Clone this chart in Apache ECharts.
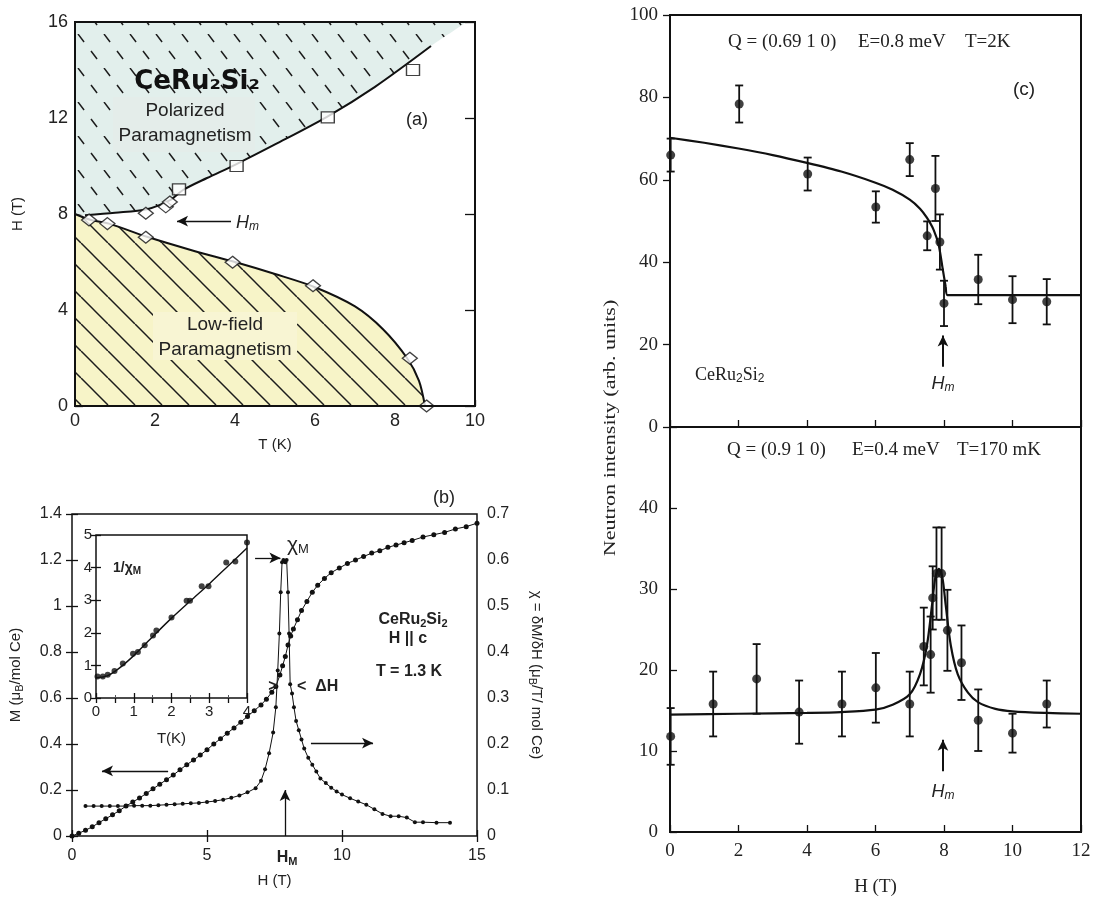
<!DOCTYPE html>
<html>
<head>
<meta charset="utf-8">
<script src="https://cdn.jsdelivr.net/npm/echarts/dist/echarts.min.js"></script>
<style>
html, body { margin: 0; background: #fff; }
#chart { width: 1097px; height: 898px; }
</style>
</head>
<body>
<div id="chart"></div>
<script>
( () => {
    const SANS = "'Liberation Sans', Arial, sans-serif";
    const SERIF = "'Liberation Serif', 'Times New Roman', serif";

    // ---- panel (a): phase diagram ----
    const aLowT = [0.35, 0.81, 1.77, 3.94, 5.95, 8.37, 8.79];
    const aLowH = [7.75, 7.6, 7.03, 5.99, 5.01, 1.99, 0];
    const aUpDiaT = [1.77, 2.27, 2.37];
    const aUpDiaH = [8.03, 8.3, 8.5];
    const aUpSqT = [2.6, 4.04, 6.32, 8.45];
    const aUpSqH = [9.03, 10.0, 12.03, 14.0];
    const aLowLineT = [0, 0.4, 0.85, 1.8, 3, 4, 5, 6, 7, 7.7, 8.3, 8.6, 8.75];
    const aLowLineH = [8.0, 7.75, 7.6, 7.05, 6.45, 6.0, 5.5, 4.95, 4.15, 3.2, 2.0, 1.05, 0];
    const aUpLineT = [0.25, 1, 1.8, 2.4, 2.7, 3.3, 4, 5, 6.3, 7.5, 8.9];
    const aUpLineH = [7.95, 8.05, 8.2, 8.6, 9.0, 9.5, 10.05, 10.9, 12.05, 13.3, 15.0];
    const aTealT = [0, ...aUpLineT, 9.8];
    const aTealH = [8.0, ...aUpLineH, 16];

    // ---- panel (b): magnetization and susceptibility ----
    const bMH = [0, 0.25, 0.5, 0.75, 1.0, 1.25, 1.5, 1.75, 2.0, 2.25, 2.5, 2.75, 3.0, 3.25, 3.5, 3.75,
        4.0, 4.25, 4.5, 4.75, 5.0, 5.25, 5.5, 5.75, 6.0, 6.25, 6.5, 6.75, 7.0, 7.2, 7.4, 7.55, 7.7,
        7.8, 7.9, 8.0, 8.1, 8.2, 8.35, 8.5, 8.7, 8.9, 9.1, 9.35, 9.6, 9.9, 10.2, 10.5, 10.8, 11.1,
        11.4, 11.7, 12.0, 12.3, 12.6, 13.0, 13.4, 13.8, 14.2, 14.6, 15.0];
    const bM = [0, 0.012, 0.025, 0.04, 0.058, 0.075, 0.092, 0.11, 0.13, 0.148, 0.165, 0.185, 0.205,
        0.225, 0.245, 0.265, 0.288, 0.31, 0.33, 0.352, 0.375, 0.40, 0.423, 0.447, 0.47, 0.495, 0.52,
        0.545, 0.57, 0.595, 0.625, 0.65, 0.70, 0.74, 0.78, 0.83, 0.87, 0.90, 0.94, 0.98, 1.02, 1.06,
        1.09, 1.12, 1.145, 1.165, 1.185, 1.2, 1.215, 1.23, 1.24, 1.255, 1.265, 1.275, 1.285, 1.3,
        1.31, 1.32, 1.335, 1.345, 1.36];
    const bChiH = [0.5, 0.8, 1.1, 1.4, 1.7, 2.0, 2.3, 2.6, 2.9, 3.2, 3.5, 3.8, 4.1, 4.4, 4.7, 5.0,
        5.3, 5.6, 5.9, 6.2, 6.5, 6.8, 7.0, 7.15, 7.3, 7.45, 7.55, 7.62, 7.68, 7.73, 7.78, 7.83, 7.9,
        7.95, 8.0, 8.04, 8.08, 8.15, 8.22, 8.3, 8.4, 8.5, 8.6, 8.75, 8.9, 9.05, 9.2, 9.4, 9.6, 9.8,
        10.0, 10.3, 10.6, 10.9, 11.2, 11.5, 11.8, 12.1, 12.4, 12.7, 13.0, 13.5, 14.0];
    const bChi = [0.065, 0.065, 0.065, 0.065, 0.065, 0.065, 0.066, 0.066, 0.066, 0.067, 0.068, 0.069,
        0.070, 0.071, 0.072, 0.074, 0.076, 0.079, 0.083, 0.088, 0.095, 0.104, 0.12, 0.145, 0.18,
        0.225, 0.28, 0.36, 0.44, 0.53, 0.595, 0.6, 0.595, 0.6, 0.53, 0.44, 0.33, 0.31, 0.28, 0.25,
        0.23, 0.21, 0.19, 0.17, 0.155, 0.14, 0.125, 0.115, 0.105, 0.097, 0.09, 0.082, 0.075, 0.068,
        0.058, 0.048, 0.043, 0.043, 0.04, 0.03, 0.03, 0.029, 0.029];
    const bInvT = [0.04, 0.18, 0.31, 0.49, 0.71, 0.98, 1.11, 1.29, 1.51, 1.6, 2.0, 2.4, 2.49, 2.8, 2.98, 3.45, 3.69, 4.0];
    const bInv = [0.66, 0.66, 0.71, 0.83, 1.06, 1.36, 1.41, 1.62, 1.92, 2.07, 2.47, 2.98, 2.98, 3.43, 3.43, 4.16, 4.19, 4.77];
    const bInvFitT = [0, 0.3, 0.6, 1, 1.5, 2, 2.5, 3, 3.5, 4];
    const bInvFit = [0.62, 0.68, 0.9, 1.3, 1.88, 2.45, 2.98, 3.5, 4.05, 4.6];

    // ---- panel (c): neutron intensity ----
    const cTopH = [0.02, 2.02, 4.02, 6.01, 7.0, 7.51, 7.75, 7.88, 8.0, 9.0, 10.0, 11.0];
    const cTopI = [66.0, 78.4, 61.4, 53.4, 64.9, 46.4, 57.9, 44.9, 30.0, 35.8, 30.9, 30.4];
    const cTopErr = [4, 4.5, 4, 3.8, 4, 3.5, 7.9, 6.7, 5.5, 6, 5.7, 5.5];
    const cTopFitH = [0, 1, 2, 3, 4, 5, 6, 6.5, 7, 7.3, 7.5, 7.7, 7.85, 7.95, 8.05, 8.1, 12];
    const cTopFitI = [70.2, 69.0, 67.6, 66.0, 64.1, 62.0, 59.3, 57.6, 55.2, 53.0, 50.8, 47.8, 44, 39, 34, 32, 32];
    const cBotH = [0.02, 1.26, 2.53, 3.77, 5.02, 6.01, 7.0, 7.41, 7.61, 7.67, 7.78, 7.93, 8.1, 8.51, 9.0, 10.0, 11.0];
    const cBotI = [11.8, 15.8, 18.9, 14.8, 15.8, 17.8, 15.8, 22.9, 21.9, 28.9, 31.9, 31.9, 24.9, 20.9, 13.8, 12.2, 15.8];
    const cBotErr = [3.5, 4, 4.3, 3.9, 4, 4.3, 4, 4.8, 4.7, 3.9, 5.7, 5.7, 5, 4.6, 3.8, 2.4, 2.9];
    const cBotFitH = [0, 2, 4, 5, 6, 6.5, 7, 7.3, 7.5, 7.65, 7.75, 7.85, 7.95, 8.05, 8.2, 8.4, 8.7, 9, 9.5, 10, 11, 12];
    const cBotFitI = [14.5, 14.6, 14.7, 14.8, 15.1, 15.7, 17, 19.5, 23, 28, 31.5, 32.5, 31.5, 28, 23, 19.5, 17.2, 16, 15.2, 14.9, 14.7, 14.6];

    const zip = ( a, b ) => a.map( ( v, i ) => [ v, b[ i ] ] );
    const zip3 = ( a, b, c ) => a.map( ( v, i ) => [ v, b[ i ], c[ i ] ] );

    // hatch pattern tiles for the phase diagram
    function hatch( bg, w, h, dash ) {
        const c = document.createElement( 'canvas' );
        c.width = w;
        c.height = h;
        const g = c.getContext( '2d' );
        g.fillStyle = bg;
        g.fillRect( 0, 0, w, h );
        g.strokeStyle = '#1c1c1c';
        g.lineWidth = 1.5;
        if ( dash ) g.setLineDash( dash );
        for ( let k = -1; k <= 1; k++ ) {
            g.beginPath();
            g.moveTo( k * w, 0 );
            g.lineTo( k * w + w, h );
            g.stroke();
        }
        return { image: c, repeat: 'repeat' };
    }
    const tealFill = hatch( '#e2efec', 26, 34, [ 10, 11.4 ] );
    const yellowFill = hatch( '#f7f4c8', 27, 27 );

    function errBars( params, api ) {
        const x = api.value( 0 ), y = api.value( 1 ), e = api.value( 2 );
        const hi = api.coord( [ x, y + e ] );
        const lo = api.coord( [ x, y - e ] );
        const w = 4;
        const st = { stroke: '#111', lineWidth: 1.8 };
        return {
            type: 'group',
            children: [
                { type: 'line', shape: { x1: hi[ 0 ], y1: hi[ 1 ], x2: lo[ 0 ], y2: lo[ 1 ] }, style: st },
                { type: 'line', shape: { x1: hi[ 0 ] - w, y1: hi[ 1 ], x2: hi[ 0 ] + w, y2: hi[ 1 ] }, style: st },
                { type: 'line', shape: { x1: lo[ 0 ] - w, y1: lo[ 1 ], x2: lo[ 0 ] + w, y2: lo[ 1 ] }, style: st },
            ],
        };
    }

    const arrows = ( list, w ) => ( {
        silent: true,
        symbol: [ 'none', 'arrow' ],
        symbolSize: [ 8, 11 ],
        label: { show: false },
        lineStyle: { color: '#111', width: w || 1.4, type: 'solid' },
        data: list.map( a => [ { coord: [ a[ 0 ], a[ 1 ] ] }, { coord: [ a[ 2 ], a[ 3 ] ] } ] ),
    } );

    const sub = { fontSize: 11, padding: [ 7, 0, 0, 0 ] };

    const tick = ( show, len ) => ( { show: show, inside: true, length: len || 6, lineStyle: { color: '#111', width: 1.3 } } );
    const noLine = { show: false };

    const chart = echarts.init( document.getElementById( 'chart' ) );

    const option = {
        animation: false,
        backgroundColor: '#fff',
        grid: [
            { left: 75, top: 22, width: 400, height: 384, show: true, borderColor: '#111', borderWidth: 2, z: 5 },
            { left: 72, top: 514, width: 405, height: 322, show: true, borderColor: '#111', borderWidth: 1.5, z: 5 },
            { left: 96, top: 535, width: 151, height: 163, show: true, borderColor: '#111', borderWidth: 1.5, backgroundColor: '#fff' },
            { left: 670, top: 15, width: 411, height: 412, show: true, borderColor: '#111', borderWidth: 2, z: 5 },
            { left: 670, top: 427, width: 411, height: 410, show: true, borderColor: '#111', borderWidth: 2, z: 5 },
        ],
        xAxis: [
            {
                gridIndex: 0, type: 'value', min: 0, max: 10, interval: 2,
                axisLine: noLine, axisTick: tick( true ), splitLine: { show: false },
                axisLabel: { fontFamily: SANS, fontSize: 18, color: '#222', margin: 6 },
                name: 'T (K)', nameLocation: 'middle', nameGap: 31,
                nameTextStyle: { fontFamily: SANS, fontSize: 15, color: '#222' },
            },
            {
                gridIndex: 1, type: 'value', min: 0, max: 15, interval: 5,
                axisLine: noLine, axisTick: tick( true ), splitLine: { show: false },
                axisLabel: { fontFamily: SANS, fontSize: 16, color: '#222', margin: 12 },
                name: 'H (T)', nameLocation: 'middle', nameGap: 37,
                nameTextStyle: { fontFamily: SANS, fontSize: 15, color: '#222' },
            },
            {
                gridIndex: 1, type: 'value', position: 'top', min: 0, max: 15, interval: 5,
                axisLine: noLine, axisTick: tick( true ), axisLabel: { show: false }, splitLine: { show: false },
            },
            {
                gridIndex: 2, type: 'value', min: 0, max: 4, interval: 1,
                axisLine: noLine, axisTick: tick( true, 5 ), splitLine: { show: false },
                minorTick: { show: true, splitNumber: 2, length: 3 },
                axisLabel: { fontFamily: SANS, fontSize: 15, color: '#222', margin: 6 },
                name: 'T(K)', nameLocation: 'middle', nameGap: 33,
                nameTextStyle: { fontFamily: SANS, fontSize: 15, color: '#222' },
            },
            {
                gridIndex: 2, type: 'value', position: 'top', min: 0, max: 4, interval: 0.5,
                axisLine: noLine, axisTick: tick( true, 5 ), axisLabel: { show: false }, splitLine: { show: false },
            },
            {
                gridIndex: 3, type: 'value', min: 0, max: 12, interval: 2,
                axisLine: noLine, axisTick: tick( true, 7 ), axisLabel: { show: false }, splitLine: { show: false },
            },
            {
                gridIndex: 4, type: 'value', min: 0, max: 12, interval: 2,
                axisLine: noLine, axisTick: tick( true, 7 ), splitLine: { show: false },
                axisLabel: { fontFamily: SERIF, fontSize: 19, color: '#222', margin: 10 },
                name: 'H (T)', nameLocation: 'middle', nameGap: 46,
                nameTextStyle: { fontFamily: SERIF, fontSize: 19, color: '#222' },
            },
        ],
        yAxis: [
            {
                gridIndex: 0, type: 'value', min: 0, max: 16, interval: 4,
                axisLine: noLine, axisTick: tick( true, 8 ), splitLine: { show: false },
                axisLabel: { fontFamily: SANS, fontSize: 18, color: '#222', margin: 7 },
                name: 'H (T)', nameLocation: 'middle', nameGap: 50, nameRotate: 90,
                nameTextStyle: { fontFamily: SANS, fontSize: 15, color: '#222' },
            },
            {
                gridIndex: 0, type: 'value', position: 'right', min: 0, max: 16, interval: 4,
                axisLine: noLine, axisTick: tick( true, 10 ), axisLabel: { show: false }, splitLine: { show: false },
            },
            {
                gridIndex: 1, type: 'value', min: 0, max: 1.4, interval: 0.2,
                axisLine: noLine, axisTick: tick( true ), splitLine: { show: false },
                axisLabel: { fontFamily: SANS, fontSize: 16, color: '#222', margin: 10 },
                name: 'M (μ{s|B}/mol Ce)', nameLocation: 'middle', nameGap: 47, nameRotate: 90,
                nameTextStyle: { fontFamily: SANS, fontSize: 15, color: '#222', rich: { s: sub } },
            },
            {
                gridIndex: 1, type: 'value', position: 'right', min: 0, max: 0.7, interval: 0.1,
                axisLine: noLine, axisTick: tick( true ), splitLine: { show: false },
                axisLabel: { fontFamily: SANS, fontSize: 16, color: '#222', margin: 10 },
                name: 'χ = δM/δH (μ{s|B}/T/ mol Ce)', nameLocation: 'middle', nameGap: 50, nameRotate: -90,
                nameTextStyle: { fontFamily: SANS, fontSize: 15, color: '#222', rich: { s: sub } },
            },
            {
                gridIndex: 2, type: 'value', min: 0, max: 5, interval: 1,
                axisLine: noLine, axisTick: tick( true, 5 ), splitLine: { show: false },
                axisLabel: { fontFamily: SANS, fontSize: 15, color: '#222', margin: 4 },
            },
            {
                gridIndex: 2, type: 'value', position: 'right', min: 0, max: 5, interval: 1,
                axisLine: noLine, axisTick: tick( true, 5 ), axisLabel: { show: false }, splitLine: { show: false },
            },
            {
                gridIndex: 3, type: 'value', min: 0, max: 100, interval: 20,
                axisLine: noLine, axisTick: { show: true, inside: false, length: 7, lineStyle: { color: '#111', width: 1.3 } },
                splitLine: { show: false },
                axisLabel: { fontFamily: SERIF, fontSize: 19, color: '#222', margin: 12 },
            },
            {
                gridIndex: 4, type: 'value', min: 0, max: 50, interval: 10,
                axisLine: noLine, axisTick: tick( true, 7 ), splitLine: { show: false },
                axisLabel: {
                    fontFamily: SERIF, fontSize: 19, color: '#222', margin: 12,
                    formatter: v => ( v === 50 ? '' : String( v ) ),
                },
            },
        ],
        series: [
            // (a) fills
            {
                type: 'line', xAxisIndex: 0, yAxisIndex: 0, data: zip( aTealT, aTealH ), smooth: 0.3,
                showSymbol: false, lineStyle: { opacity: 0 }, silent: true, z: 1,
                areaStyle: { color: tealFill, origin: 'end', opacity: 1 },
            },
            {
                type: 'line', xAxisIndex: 0, yAxisIndex: 0, data: zip( aLowLineT, aLowLineH ), smooth: 0.3,
                showSymbol: false, lineStyle: { opacity: 0 }, silent: true, z: 1,
                areaStyle: { color: yellowFill, origin: 'start', opacity: 1 },
            },
            // (a) boundary lines
            {
                type: 'line', xAxisIndex: 0, yAxisIndex: 0, data: zip( aLowLineT, aLowLineH ), smooth: 0.3,
                showSymbol: false, lineStyle: { color: '#111', width: 2 }, z: 3,
                markLine: arrows( [ [ 3.9, 7.7, 2.55, 7.7 ] ] ),
            },
            {
                type: 'line', xAxisIndex: 0, yAxisIndex: 0, data: zip( aUpLineT, aUpLineH ), smooth: 0.3,
                showSymbol: false, lineStyle: { color: '#111', width: 2 }, z: 3,
            },
            {
                type: 'scatter', xAxisIndex: 0, yAxisIndex: 0,
                data: zip( aLowT, aLowH ).concat( zip( aUpDiaT, aUpDiaH ) ),
                symbol: 'diamond', symbolSize: [ 15, 12 ], z: 4,
                itemStyle: { color: '#fff', borderColor: '#111', borderWidth: 1.3 },
            },
            {
                type: 'scatter', xAxisIndex: 0, yAxisIndex: 0, data: zip( aUpSqT, aUpSqH ),
                symbol: 'rect', symbolSize: [ 13, 11 ], z: 4,
                itemStyle: { color: '#fff', borderColor: '#111', borderWidth: 1.3 },
            },
            // (b) magnetization (left axis)
            {
                type: 'line', xAxisIndex: 1, yAxisIndex: 2, data: zip( bMH, bM ),
                symbol: 'circle', symbolSize: 5, itemStyle: { color: '#111' },
                lineStyle: { color: '#111', width: 1 },
                markLine: arrows( [
                    [ 6.78, 1.209, 7.72, 1.209 ],
                    [ 3.56, 0.283, 1.11, 0.283 ],
                    [ 8.85, 0.404, 11.15, 0.404 ],
                    [ 7.89, 0, 7.89, 0.2 ],
                ], 1.3 ),
            },
            // (b) susceptibility (right axis)
            {
                type: 'line', xAxisIndex: 1, yAxisIndex: 3, data: zip( bChiH, bChi ),
                symbol: 'circle', symbolSize: 4, itemStyle: { color: '#111' },
                lineStyle: { color: '#111', width: 1 },
            },
            // (b) inset
            {
                type: 'line', xAxisIndex: 3, yAxisIndex: 4, data: zip( bInvFitT, bInvFit ), smooth: 0.3,
                showSymbol: false, lineStyle: { color: '#111', width: 1.4 },
            },
            {
                type: 'scatter', xAxisIndex: 3, yAxisIndex: 4, data: zip( bInvT, bInv ),
                symbol: 'circle', symbolSize: 6, itemStyle: { color: '#111' },
            },
            // (c) upper
            {
                type: 'line', xAxisIndex: 5, yAxisIndex: 6, data: zip( cTopFitH, cTopFitI ), smooth: 0.2,
                showSymbol: false, lineStyle: { color: '#111', width: 2.2 },
                markLine: arrows( [ [ 7.97, 14.6, 7.97, 22.2 ] ], 2 ),
            },
            {
                type: 'custom', xAxisIndex: 5, yAxisIndex: 6, data: zip3( cTopH, cTopI, cTopErr ),
                renderItem: errBars,
            },
            {
                type: 'scatter', xAxisIndex: 5, yAxisIndex: 6, data: zip( cTopH, cTopI ),
                symbol: 'circle', symbolSize: 9, itemStyle: { color: '#111' }, z: 4,
            },
            // (c) lower
            {
                type: 'line', xAxisIndex: 6, yAxisIndex: 7, data: zip( cBotFitH, cBotFitI ), smooth: 0.3,
                showSymbol: false, lineStyle: { color: '#111', width: 2.2 },
                markLine: arrows( [ [ 7.97, 7.5, 7.97, 11.4 ] ], 2 ),
            },
            {
                type: 'custom', xAxisIndex: 6, yAxisIndex: 7, data: zip3( cBotH, cBotI, cBotErr ),
                renderItem: errBars,
            },
            {
                type: 'scatter', xAxisIndex: 6, yAxisIndex: 7, data: zip( cBotH, cBotI ),
                symbol: 'circle', symbolSize: 9, itemStyle: { color: '#111' }, z: 4,
            },
        ],
        graphic: [
            // (a) labels
            { type: 'rect', shape: { x: 113, y: 97, width: 142, height: 55 }, style: { fill: '#e4edea' }, z: 10 },
            { type: 'rect', shape: { x: 153, y: 312, width: 144, height: 48 }, style: { fill: '#f8f5d3' }, z: 10 },
            {
                type: 'text', z: 11,
                style: { text: 'CeRu₂Si₂', x: 197, y: 82, font: "bold 26px 'DejaVu Sans', sans-serif", fill: '#111', align: 'center', verticalAlign: 'middle' },
            },
            {
                type: 'text', z: 11,
                style: { text: 'Polarized\nParamagnetism', x: 185, y: 123, font: "19px " + SANS, lineHeight: 25, fill: '#222', align: 'center', verticalAlign: 'middle' },
            },
            {
                type: 'text', z: 11,
                style: { text: 'Low-field\nParamagnetism', x: 225, y: 337, font: "19px " + SANS, lineHeight: 25, fill: '#222', align: 'center', verticalAlign: 'middle' },
            },
            {
                type: 'text', z: 11,
                style: { text: '(a)', x: 417, y: 120, font: "18px " + SANS, fill: '#222', align: 'center', verticalAlign: 'middle' },
            },
            {
                type: 'text', z: 11,
                style: { text: 'H{s|m}', x: 236, y: 223, font: "italic 18px " + SANS, fill: '#222', align: 'left', verticalAlign: 'middle', rich: { s: { fontSize: 12, fontStyle: 'italic', padding: [ 8, 0, 0, 0 ] } } },
            },
            // (b) labels
            {
                type: 'text', z: 11,
                style: { text: '(b)', x: 444, y: 498, font: "18px " + SANS, fill: '#222', align: 'center', verticalAlign: 'middle' },
            },
            {
                type: 'text', z: 11,
                style: { text: 'χ{s|M}', x: 298, y: 545, font: "21px " + SANS, fill: '#222', align: 'center', verticalAlign: 'middle', rich: { s: { fontSize: 13, padding: [ 8, 0, 0, 0 ] } } },
            },
            {
                type: 'text', z: 11,
                style: { text: '1/χ{s|M}', x: 113, y: 568, font: "bold 14px " + SANS, fill: '#222', align: 'left', verticalAlign: 'middle', rich: { s: { fontSize: 10, fontWeight: 'bold', padding: [ 6, 0, 0, 0 ] } } },
            },
            {
                type: 'text', z: 11,
                style: { text: '>', x: 273, y: 687, font: "bold 16px " + SANS, fill: '#222', align: 'center', verticalAlign: 'middle' },
            },
            {
                type: 'text', z: 11,
                style: { text: '<  ΔH', x: 297, y: 687, font: "bold 16px " + SANS, fill: '#222', align: 'left', verticalAlign: 'middle' },
            },
            {
                type: 'text', z: 11,
                style: { text: 'CeRu{s|2}Si{s|2}', x: 413, y: 620, font: "bold 16px " + SANS, fill: '#222', align: 'center', verticalAlign: 'middle', rich: { s: { fontSize: 11, fontWeight: 'bold', padding: [ 7, 0, 0, 0 ] } } },
            },
            {
                type: 'text', z: 11,
                style: { text: 'H || c', x: 408, y: 639, font: "bold 16px " + SANS, fill: '#222', align: 'center', verticalAlign: 'middle' },
            },
            {
                type: 'text', z: 11,
                style: { text: 'T = 1.3 K', x: 409, y: 672, font: "bold 16px " + SANS, fill: '#222', align: 'center', verticalAlign: 'middle' },
            },
            {
                type: 'text', z: 11,
                style: { text: 'H{s|M}', x: 287, y: 858, font: "bold 16px " + SANS, fill: '#222', align: 'center', verticalAlign: 'middle', rich: { s: { fontSize: 11, fontWeight: 'bold', padding: [ 7, 0, 0, 0 ] } } },
            },
            // (c) labels
            {
                type: 'text', z: 11,
                style: { text: 'Q = (0.69 1 0)', x: 728, y: 42, font: "19px " + SERIF, fill: '#222', align: 'left', verticalAlign: 'middle' },
            },
            {
                type: 'text', z: 11,
                style: { text: 'E=0.8 meV', x: 858, y: 42, font: "19px " + SERIF, fill: '#222', align: 'left', verticalAlign: 'middle' },
            },
            {
                type: 'text', z: 11,
                style: { text: 'T=2K', x: 965, y: 42, font: "19px " + SERIF, fill: '#222', align: 'left', verticalAlign: 'middle' },
            },
            {
                type: 'text', z: 11,
                style: { text: '(c)', x: 1024, y: 90, font: "19px " + SANS, fill: '#222', align: 'center', verticalAlign: 'middle' },
            },
            {
                type: 'text', z: 11,
                style: { text: 'CeRu{s|2}Si{s|2}', x: 695, y: 375, font: "18px " + SERIF, fill: '#222', align: 'left', verticalAlign: 'middle', rich: { s: { fontSize: 12, padding: [ 8, 0, 0, 0 ] } } },
            },
            {
                type: 'text', z: 11,
                style: { text: 'H{s|m}', x: 943, y: 384, font: "italic 18px " + SANS, fill: '#222', align: 'center', verticalAlign: 'middle', rich: { s: { fontSize: 12, fontStyle: 'italic', padding: [ 8, 0, 0, 0 ] } } },
            },
            {
                type: 'text', z: 11,
                style: { text: 'Q = (0.9 1 0)', x: 727, y: 450, font: "19px " + SERIF, fill: '#222', align: 'left', verticalAlign: 'middle' },
            },
            {
                type: 'text', z: 11,
                style: { text: 'E=0.4 meV', x: 852, y: 450, font: "19px " + SERIF, fill: '#222', align: 'left', verticalAlign: 'middle' },
            },
            {
                type: 'text', z: 11,
                style: { text: 'T=170 mK', x: 957, y: 450, font: "19px " + SERIF, fill: '#222', align: 'left', verticalAlign: 'middle' },
            },
            {
                type: 'text', z: 11,
                style: { text: 'H{s|m}', x: 943, y: 792, font: "italic 18px " + SANS, fill: '#222', align: 'center', verticalAlign: 'middle', rich: { s: { fontSize: 12, fontStyle: 'italic', padding: [ 8, 0, 0, 0 ] } } },
            },
            {
                type: 'text', z: 11, x: 611, y: 428, rotation: Math.PI / 2, scaleX: 1.3,
                style: { text: 'Neutron intensity (arb. units)', x: 0, y: 0, font: "17px " + SERIF, fill: '#222', align: 'center', verticalAlign: 'middle' },
            },
        ],
    };

    chart.setOption( option );
} ) ();
</script>
</body>
</html>
